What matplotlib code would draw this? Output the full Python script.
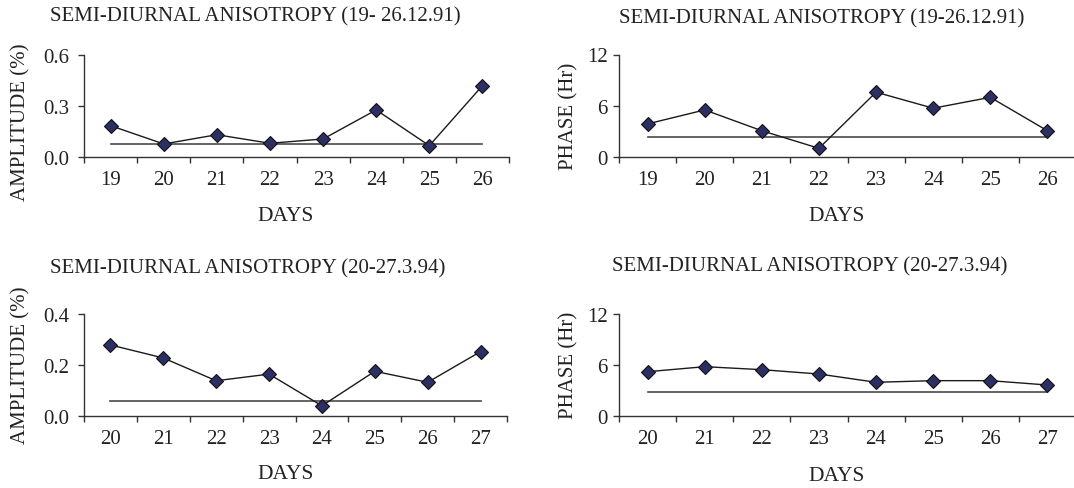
import numpy as np
import matplotlib
matplotlib.use("Agg")
import matplotlib.pyplot as plt

plt.rcParams['font.family'] = ['Liberation Serif', 'DejaVu Serif']

# data
days_91 = ['19', '20', '21', '22', '23', '24', '25', '26']
amp_91 = [0.185, 0.078, 0.132, 0.082, 0.107, 0.277, 0.068, 0.419]
amp_91_level = 0.078
phase_91 = [3.9, 5.53, 3.1, 1.05, 7.6, 5.73, 7.0, 3.1]
phase_91_level = 2.35

days_94 = ['20', '21', '22', '23', '24', '25', '26', '27']
amp_94 = [0.279, 0.228, 0.139, 0.165, 0.041, 0.176, 0.133, 0.253]
amp_94_level = 0.061
phase_94 = [5.23, 5.82, 5.47, 4.96, 3.99, 4.18, 4.18, 3.67]
phase_94_level = 2.89

amp_91_ticks = [0.0, 0.3, 0.6]
amp_94_ticks = [0.0, 0.2, 0.4]
phase_ticks = [0, 6, 12]

title_91a = 'SEMI-DIURNAL ANISOTROPY (19- 26.12.91)'
title_91b = 'SEMI-DIURNAL ANISOTROPY (19-26.12.91)'
title_94 = 'SEMI-DIURNAL ANISOTROPY (20-27.3.94)'

W, H = 1074, 489
fig = plt.figure(figsize=(W / 100, H / 100), dpi=100)
TXT = '#222222'
FS = 15


def px_axes(l, r, t, b):
    return [l / W, 1 - b / H, (r - l) / W, (b - t) / H]


def px(x, y):
    return x / W, 1 - y / H


def panel(rect, days, vals, level, ticks, fmt, ypad):
    ax = fig.add_axes(px_axes(*rect))
    x = np.arange(len(days))
    ax.plot(x, vals, color='#1a1a1a', lw=1.0, marker='D', ms=7.6,
            mfc='#2b2f63', mec='#111111', mew=0.8, zorder=3)
    ax.plot([x[0], x[-1]], [level, level], color='#4a4a4a', lw=1.2, zorder=2)
    ax.set_xlim(-0.5, len(days) - 0.5)
    ax.set_ylim(ticks[0], ticks[-1])
    ax.set_xticks(np.arange(-0.5, len(days), 1.0))
    ax.set_xticklabels([])
    ax.set_xticks(x, minor=True)
    ax.set_xticklabels(days, minor=True)
    ax.set_yticks(ticks)
    ax.set_yticklabels([fmt.format(t) for t in ticks])
    ax.tick_params(axis='x', which='major', length=4.3, width=1.0, color='#333333')
    ax.tick_params(axis='x', which='minor', length=0, pad=9.5, labelsize=FS, labelcolor=TXT)
    ax.tick_params(axis='y', length=4.3, width=1.0, color='#333333', pad=ypad,
                   labelsize=FS, labelcolor=TXT)
    for s in ['top', 'right']:
        ax.spines[s].set_visible(False)
    for s in ['left', 'bottom']:
        ax.spines[s].set_color('#333333')
        ax.spines[s].set_linewidth(1.0)
    ax.patch.set_alpha(0)
    return ax


panel((84, 509, 55.7, 158.3), days_91, amp_91, amp_91_level, amp_91_ticks, '{:.1f}', 6.0)
panel((619, 1076, 55.5, 158.3), days_91, phase_91, phase_91_level, phase_ticks, '{:d}', 4)
panel((84, 507, 315, 417.3), days_94, amp_94, amp_94_level, amp_94_ticks, '{:.1f}', 6.0)
panel((619, 1076, 315, 417.3), days_94, phase_94, phase_94_level, phase_ticks, '{:d}', 4)

# titles
for (x, y), t in [((255, 16.5), title_91a), ((822, 19), title_91b),
                  ((248, 268.5), title_94), ((810, 267), title_94)]:
    fig.text(*px(x, y), t, ha='center', va='center', fontsize=FS, color=TXT)

# axis titles
for (x, y) in [(286, 216.7), (837, 216.7), (286, 475), (837, 476.7)]:
    fig.text(*px(x, y), 'DAYS', ha='center', va='center', fontsize=FS + 0.5, color=TXT)

for (x, y), t in [((20.7, 122.5), 'AMPLITUDE (%)'), ((569, 116), 'PHASE (Hr)'),
                  ((20.7, 365), 'AMPLITUDE (%)'), ((569, 365), 'PHASE (Hr)')]:
    fig.text(*px(x, y), t, ha='center', va='center', rotation=90, fontsize=FS, color=TXT)

fig.savefig('out.png', dpi=100)
